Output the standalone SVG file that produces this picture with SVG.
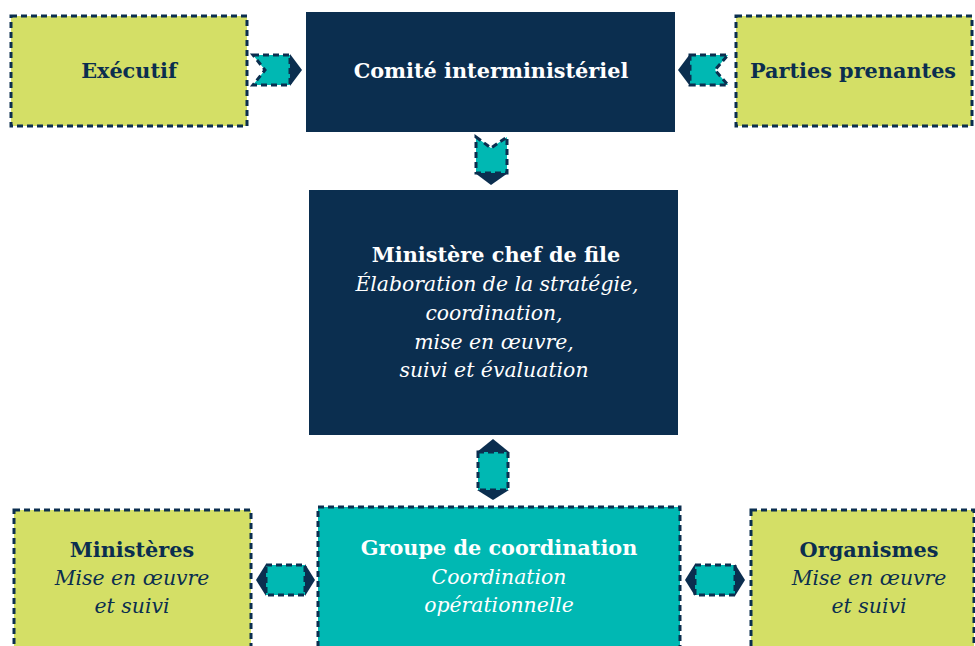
<svg xmlns="http://www.w3.org/2000/svg" width="975" height="646" viewBox="0 0 975 646">
  <style>
    .navy { fill: #0b2e4f; }
    .green { fill: #d4df66; stroke: #0b2e4f; stroke-width: 3; stroke-dasharray: 6 4; }
    .teal { fill: #00b8b3; stroke: #0b2e4f; stroke-width: 3; stroke-dasharray: 6 4; }
    .cbody { fill: #00b8b3; stroke: #0b2e4f; stroke-width: 3; stroke-dasharray: 6 4; }
    .chead { fill: #0b2e4f; }
    text { font-family: "DejaVu Serif", "Liberation Serif", serif; text-anchor: middle; font-size: 20.8px; }
    .b { font-weight: bold; }
    .i { font-style: italic; font-size: 20.4px; }
    .w { fill: #ffffff; }
    .d { fill: #0b2e4f; }
  </style>

  <!-- Top row -->
  <g id="executif">
    <rect class="green" x="11" y="16" width="236" height="110"/>
    <text class="b d" x="129" y="78">Exécutif</text>
  </g>
  <g id="comite">
    <rect class="navy" x="306" y="12" width="369" height="120"/>
    <text class="b w" x="491" y="78">Comité interministériel</text>
  </g>
  <g id="parties">
    <rect class="green" x="736" y="16" width="236" height="110"/>
    <text class="b d" x="853" y="78">Parties prenantes</text>
  </g>

  <!-- Lead ministry -->
  <g id="ministere">
    <rect class="navy" x="309" y="190" width="369" height="245"/>
    <text class="b w" x="496" y="262">Ministère chef de file</text>
    <text class="i w" x="497" y="291">Élaboration de la stratégie,</text>
    <text class="i w" x="494" y="320">coordination,</text>
    <text class="i w" x="494" y="349">mise en œuvre,</text>
    <text class="i w" x="494" y="377">suivi et évaluation</text>
  </g>

  <!-- Bottom row -->
  <g id="ministeres">
    <rect class="green" x="14" y="510" width="237" height="145"/>
    <text class="b d" x="132" y="557">Ministères</text>
    <text class="i d" x="132" y="585">Mise en œuvre</text>
    <text class="i d" x="132" y="613">et suivi</text>
  </g>
  <g id="groupe">
    <rect class="teal" x="318" y="507" width="362" height="148"/>
    <text class="b w" x="499" y="555">Groupe de coordination</text>
    <text class="i w" x="499" y="584">Coordination</text>
    <text class="i w" x="499" y="612">opérationnelle</text>
  </g>
  <g id="organismes">
    <rect class="green" x="751" y="510" width="223" height="145"/>
    <text class="b d" x="869" y="557">Organismes</text>
    <text class="i d" x="869" y="585">Mise en œuvre</text>
    <text class="i d" x="869" y="613">et suivi</text>
  </g>

  <!-- Connectors -->
  <g id="connectors">
    <!-- Exécutif -> Comité -->
    <path class="cbody" d="M253,55 H290 V85 H253 L265,70 Z"/>
    <path class="chead" d="M290,54 L302,70 L290,86 Z"/>
    <!-- Parties prenantes -> Comité -->
    <path class="cbody" d="M690,55 H728 L715,70 L728,85 H690 Z"/>
    <path class="chead" d="M690,54 L678,70 L690,86 Z"/>
    <!-- Comité -> Ministère chef de file -->
    <path class="cbody" d="M476,137 L491,148 L507,137 V173 H476 Z"/>
    <path class="chead" d="M475,173 L491,185 L508,173 Z"/>
    <!-- Ministère chef de file <-> Groupe -->
    <path class="cbody" d="M478,452 H508 V490 H478 Z"/>
    <path class="chead" d="M477,452 L493,439 L509,452 Z"/>
    <path class="chead" d="M477,490 L493,500 L509,490 Z"/>
    <!-- Ministères <-> Groupe -->
    <path class="cbody" d="M266,565 H305 V595 H266 Z"/>
    <path class="chead" d="M266,564 L256,580 L266,596 Z"/>
    <path class="chead" d="M305,564 L315,580 L305,596 Z"/>
    <!-- Groupe <-> Organismes -->
    <path class="cbody" d="M695,565 H735 V595 H695 Z"/>
    <path class="chead" d="M695,564 L685,580 L695,596 Z"/>
    <path class="chead" d="M735,564 L745,580 L735,596 Z"/>
  </g>
</svg>
